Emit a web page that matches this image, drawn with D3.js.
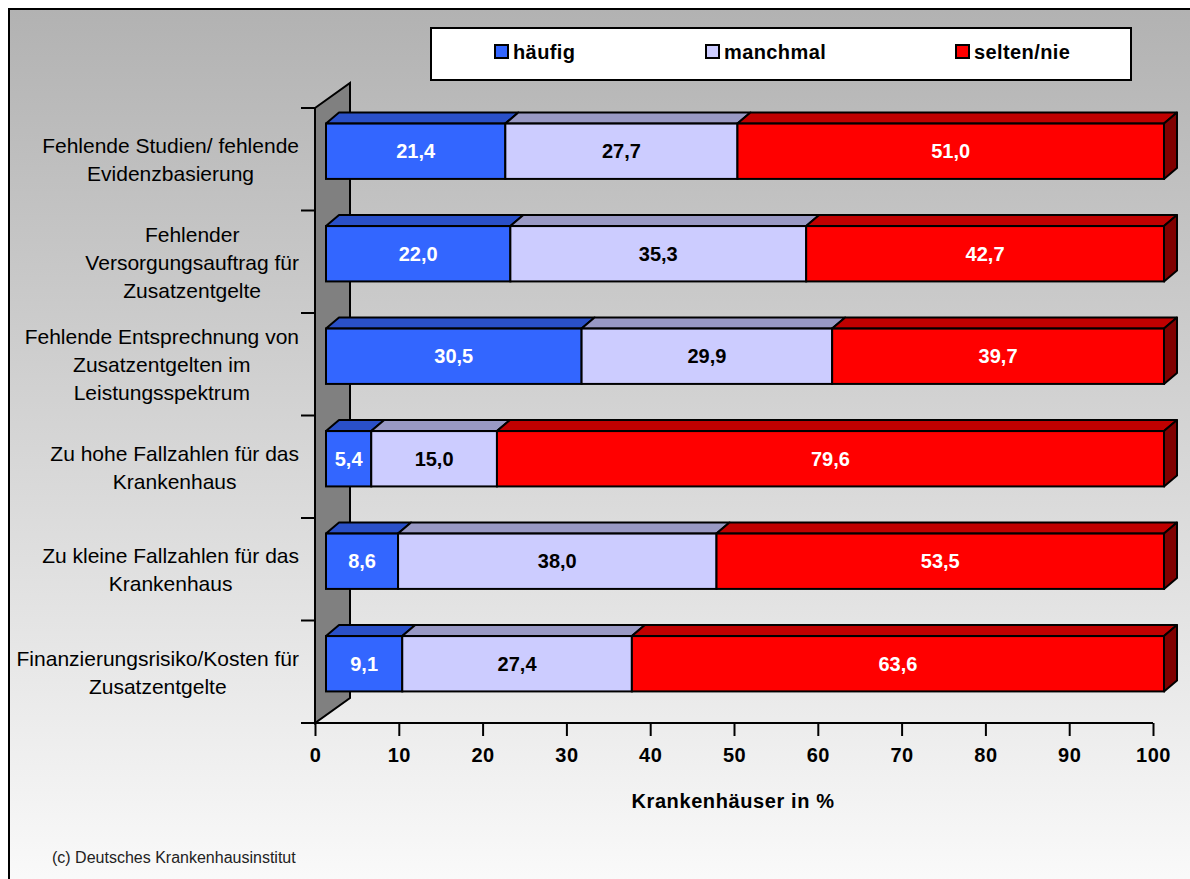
<!DOCTYPE html>
<html><head><meta charset="utf-8">
<script src="https://cdn.jsdelivr.net/npm/d3@7/dist/d3.min.js"></script>
<style>body{margin:0;background:#fff}svg{display:block;font-family:Arial,"Liberation Sans",sans-serif}</style>
</head><body><svg id="c" width="1190" height="879"></svg>
<script>
const categories = [
  ["Fehlende Studien/ fehlende","Evidenzbasierung"],
  ["Fehlender","Versorgungsauftrag für","Zusatzentgelte"],
  ["Fehlende Entsprechnung von","Zusatzentgelten im","Leistungsspektrum"],
  ["Zu hohe Fallzahlen für das","Krankenhaus"],
  ["Zu kleine Fallzahlen für das","Krankenhaus"],
  ["Finanzierungsrisiko/Kosten für","Zusatzentgelte"]
];
const seriesNames = ["häufig","manchmal","selten/nie"];
const haeufig  = [21.4, 22.0, 30.5, 5.4, 8.6, 9.1];
const manchmal = [27.7, 35.3, 29.9, 15.0, 38.0, 27.4];
const selten   = [51.0, 42.7, 39.7, 79.6, 53.5, 63.6];
const xTicks = [0,10,20,30,40,50,60,70,80,90,100];
const xTitle = "Krankenhäuser in %";
const footer = "(c) Deutsches Krankenhausinstitut";

const frontCol = ["#3366FF","#CCCCFF","#FF0000"];
const topCol   = ["#2A50C8","#9999C4","#C00000"];
const sideCol  = "#800000";
const textCol  = ["#fff","#000","#fff"];

const svg = d3.select("#c");
const defs = svg.append("defs");
const g = defs.append("linearGradient").attr("id","bg").attr("x1",0).attr("y1",0).attr("x2",0).attr("y2",1);
g.append("stop").attr("offset","0%").attr("stop-color","#b2b2b2");
g.append("stop").attr("offset","100%").attr("stop-color","#fafafa");

svg.append("rect").attr("x",9).attr("y",9).attr("width",1190).attr("height",880)
  .attr("fill","url(#bg)").attr("stroke","#000").attr("stroke-width",2);

const x = d3.scaleLinear().domain([0,100]).range([315,1153]);
const y = d3.scaleBand().domain(d3.range(categories.length)).range([108,723]).padding(0);

const wallDx = 35, wallDy = -25;
svg.append("path").attr("d",`M${x(0)},${y.range()[0]} L${x(0)+wallDx},${y.range()[0]+wallDy} L${x(0)+wallDx},${y.range()[1]+wallDy} L${x(0)},${y.range()[1]} Z`)
  .attr("fill","#808080").attr("stroke","#000").attr("stroke-width",2).attr("stroke-linejoin","miter");

const bounds = d3.range(categories.length+1).map(i => y.range()[0] + i*y.step());
svg.append("line").attr("x1",x(0)).attr("x2",x(0)).attr("y1",y.range()[0]).attr("y2",y.range()[1]).attr("stroke","#000").attr("stroke-width",2);
svg.selectAll(".yt").data(bounds).join("line").attr("x1",301).attr("x2",x(0)).attr("y1",d=>d).attr("y2",d=>d).attr("stroke","#000").attr("stroke-width",2);

const xa = svg.append("g").attr("transform",`translate(0,${y.range()[1]})`)
  .call(d3.axisBottom(x).tickValues(xTicks).tickSize(13).tickPadding(12).tickSizeOuter(0));
xa.select(".domain").attr("stroke","#000").attr("stroke-width",2).attr("d",`M301,0H${x(100)}`);
xa.selectAll(".tick line").attr("stroke","#000").attr("stroke-width",2);
xa.selectAll(".tick text").attr("font-size",20).attr("font-weight","bold").attr("fill","#000")
  .attr("letter-spacing",0.5).attr("font-family","Arial,'Liberation Sans',sans-serif");

svg.append("text").attr("x",733).attr("y",808).attr("text-anchor","middle").attr("font-size",20)
  .attr("font-weight","bold").attr("letter-spacing",0.6).text(xTitle);

const fdx = 11, fdy = -8, ddx = 13, ddy = -11;
const bh = y.bandwidth()*0.54;
const series = [haeufig, manchmal, selten];
categories.forEach((cat,i) => {
  const cy = y(i) + y.bandwidth()/2 + fdy;
  const top = cy - bh/2, bot = cy + bh/2;
  let cum = 0;
  const grp = svg.append("g");
  series.forEach((s,k) => {
    const v = s[i];
    const x0 = x(cum) + fdx, x1 = x(Math.min(cum+v,100)) + fdx;
    cum += v;
    grp.append("path").attr("d",`M${x0},${top} L${x0+ddx},${top+ddy} L${x1+ddx},${top+ddy} L${x1},${top} Z`)
      .attr("fill",topCol[k]).attr("stroke","#000").attr("stroke-width",2).attr("stroke-linejoin","round");
    grp.append("rect").attr("x",x0).attr("y",top).attr("width",x1-x0).attr("height",bh)
      .attr("fill",frontCol[k]).attr("stroke","#000").attr("stroke-width",2);
    if (k === series.length-1) {
      grp.append("path").attr("d",`M${x1},${top} L${x1+ddx},${top+ddy} L${x1+ddx},${bot+ddy} L${x1},${bot} Z`)
        .attr("fill",sideCol).attr("stroke","#000").attr("stroke-width",2).attr("stroke-linejoin","round");
    }
    grp.append("text").attr("x",(x0+x1)/2).attr("y",cy+7).attr("text-anchor","middle")
      .attr("font-size",20).attr("font-weight","bold").attr("fill",textCol[k])
      .text(v.toFixed(1).replace(".",","));
  });
  const lh = 28;
  const n = cat.length;
  const t = svg.append("text").attr("text-anchor","middle").attr("font-size",21).attr("fill","#000");
  const spans = cat.map((line,j) => t.append("tspan").attr("y", y(i)+y.bandwidth()/2 + (j-(n-1)/2)*lh + 8).text(line));
  const maxW = d3.max(spans, s => s.node().getComputedTextLength());
  spans.forEach(s => s.attr("x", 299 - maxW/2));
});

svg.append("rect").attr("x",431).attr("y",28).attr("width",700).attr("height",52).attr("fill","#fff").attr("stroke","#000").attr("stroke-width",2);
const legX = [495, 706, 956];
seriesNames.forEach((n,k) => {
  svg.append("rect").attr("x",legX[k]).attr("y",45).attr("width",13).attr("height",13).attr("fill",frontCol[k]).attr("stroke","#000").attr("stroke-width",2);
  svg.append("text").attr("x",legX[k]+18).attr("y",59).attr("font-size",20).attr("font-weight","bold").attr("letter-spacing",0.4).text(n);
});

svg.append("text").attr("x",52).attr("y",863).attr("font-size",16).attr("fill","#222").text(footer);
</script></body></html>
